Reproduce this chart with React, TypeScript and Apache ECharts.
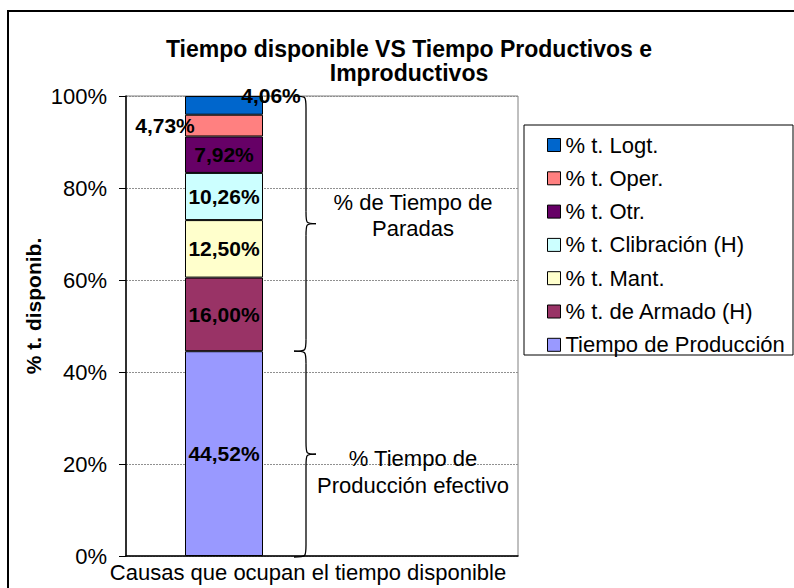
import React, { useEffect, useRef } from "react";
import * as echarts from "echarts";

const categories = ["Causas que ocupan el tiempo disponible", ""];
const seriesNames = [
  "Tiempo de Producción",
  "% t. de Armado (H)",
  "% t. Mant.",
  "% t. Clibración (H)",
  "% t. Otr.",
  "% t. Oper.",
  "% t. Logt.",
];
const seriesValues = [44.52, 16.0, 12.5, 10.26, 7.92, 4.73, 4.06];
const seriesColors = ["#9999FF", "#993366", "#FFFFCC", "#CCFFFF", "#660066", "#FF8080", "#0066CC"];
const titleText = "Tiempo disponible VS Tiempo Productivos e\nImproductivos";
const yAxisTitle = "% t. disponib.";
const productiveLabel = "% Tiempo de\nProducción efectivo";
const stopsLabel = "% de Tiempo de\nParadas";

const FONT = "'Liberation Sans', Arial, sans-serif";

function fmt(v: number) {
  return v.toFixed(2).replace(".", ",") + "%";
}

function brace(xLeft: number, xMid: number, xTip: number, yTop: number, yBot: number, r: number) {
  const yMid = (yTop + yBot) / 2;
  const st = { stroke: "#000", lineWidth: 1.3, fill: "none" };
  return [
    { type: "bezierCurve", shape: { x1: xLeft, y1: yTop, x2: xMid, y2: yTop + r, cpx1: xMid, cpy1: yTop, cpx2: xMid, cpy2: yTop }, style: st, silent: true },
    { type: "line", shape: { x1: xMid, y1: yTop + r, x2: xMid, y2: yMid - r }, style: st, silent: true },
    { type: "bezierCurve", shape: { x1: xMid, y1: yMid - r, x2: xTip, y2: yMid, cpx1: xMid, cpy1: yMid, cpx2: xMid, cpy2: yMid }, style: st, silent: true },
    { type: "bezierCurve", shape: { x1: xTip, y1: yMid, x2: xMid, y2: yMid + r, cpx1: xMid, cpy1: yMid, cpx2: xMid, cpy2: yMid }, style: st, silent: true },
    { type: "line", shape: { x1: xMid, y1: yMid + r, x2: xMid, y2: yBot - r }, style: st, silent: true },
    { type: "bezierCurve", shape: { x1: xMid, y1: yBot - r, x2: xLeft, y2: yBot, cpx1: xMid, cpy1: yBot, cpx2: xMid, cpy2: yBot }, style: st, silent: true },
  ];
}

export default function App() {
  const ref = useRef<HTMLDivElement>(null);
  useEffect(() => {
    if (!ref.current) return;
    const chart = echarts.init(ref.current, undefined, { renderer: "svg" });
    const labelOffsets: Record<number, number[]> = { 5: [-59, 0], 6: [47, -10] };
    const series = seriesNames.map((name, i) => ({
      name,
      type: "bar",
      stack: "total",
      barWidth: 78,
      data: [seriesValues[i], null],
      itemStyle: { color: seriesColors[i], borderColor: "#000", borderWidth: 1 },
      label: {
        show: true,
        position: "inside",
        offset: labelOffsets[i] || [0, 0],
        formatter: (p: any) => fmt(p.value),
        color: "#000",
        fontWeight: "bold",
        fontSize: 21,
        fontFamily: FONT,
      },
    }));
    chart.setOption({
      animation: false,
      backgroundColor: "#fff",
      title: {
        text: titleText,
        left: 404,
        top: 32,
        textAlign: "center",
        textStyle: { fontFamily: FONT, fontSize: 23, fontWeight: "bold", color: "#000", lineHeight: 24 },
      },
      grid: {
        left: 126,
        top: 96,
        width: 392,
        height: 460,
        show: true,
        borderColor: "#808080",
        borderWidth: 1,
        backgroundColor: "#fff",
      },
      legend: {
        orient: "vertical",
        left: 547,
        top: 134,
        padding: 0,
        itemWidth: 13,
        itemHeight: 13,
        itemGap: 11.3,
        icon: "rect",
        data: seriesNames.slice().reverse(),
        itemStyle: { borderColor: "#000", borderWidth: 1 },
        textStyle: { fontFamily: FONT, fontSize: 22, color: "#000", lineHeight: 22 },
      },
      xAxis: {
        type: "category",
        data: categories,
        axisLine: { lineStyle: { color: "#000", width: 1.5 } },
        axisTick: { show: false },
        axisLabel: { show: false },
      },
      yAxis: {
        type: "value",
        min: 0,
        max: 100,
        interval: 20,
        axisLine: { show: true, lineStyle: { color: "#000", width: 1.5 } },
        axisTick: { show: true, length: 7, lineStyle: { color: "#000" } },
        axisLabel: { formatter: "{value}%", margin: 19, fontFamily: FONT, fontSize: 22, color: "#000" },
        splitLine: { lineStyle: { color: "#909090", type: [2, 1], width: 1 } },
      },
      series,
    });

    const total = seriesValues.reduce((a, b) => a + b, 0);
    const yZero = chart.convertToPixel({ yAxisIndex: 0 }, 0) as number;
    const yProd = chart.convertToPixel({ yAxisIndex: 0 }, seriesValues[0]) as number;
    const yTotal = chart.convertToPixel({ yAxisIndex: 0 }, Math.min(100, total)) as number;

    chart.setOption({
      graphic: [
        { type: "rect", shape: { x: 8, y: 11, width: 800, height: 600 }, style: { fill: "none", stroke: "#000", lineWidth: 2 }, silent: true, z: 100 },
        { type: "rect", shape: { x: 524, y: 125, width: 269, height: 230 }, style: { fill: "none", stroke: "#000", lineWidth: 1 }, silent: true },
        ...brace(294, 306, 316, yTotal, yProd, 12),
        ...brace(294, 306, 316, yProd, yZero + 1, 12),
        {
          type: "text",
          x: 413,
          y: 215,
          style: { text: stopsLabel, fontFamily: FONT, fontSize: 22, fill: "#000", align: "center", verticalAlign: "middle", lineHeight: 26 },
        },
        {
          type: "text",
          x: 413,
          y: 472,
          style: { text: productiveLabel, fontFamily: FONT, fontSize: 22, fill: "#000", align: "center", verticalAlign: "middle", lineHeight: 27 },
        },
        {
          type: "text",
          x: 308,
          y: 572,
          style: { text: categories[0], fontFamily: FONT, fontSize: 22, fill: "#000", align: "center", verticalAlign: "middle" },
        },
        {
          type: "text",
          x: 33,
          y: 306,
          rotation: Math.PI / 2,
          style: { text: yAxisTitle, fontFamily: FONT, fontSize: 21, fontWeight: "bold", fill: "#000", align: "center", verticalAlign: "middle" },
        },
      ],
    });

    return () => chart.dispose();
  }, []);
  return <div ref={ref} style={{ position: "fixed", left: 0, top: 0, width: 794, height: 588 }} />;
}
